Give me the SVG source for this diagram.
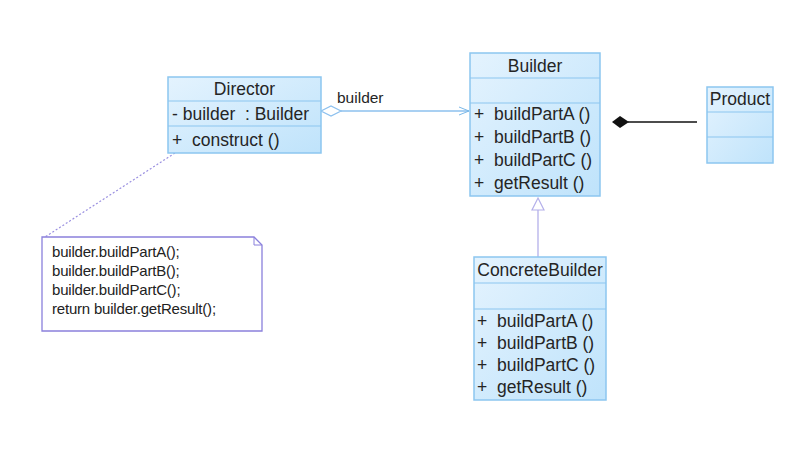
<svg xmlns="http://www.w3.org/2000/svg" width="803" height="462" viewBox="0 0 803 462">
<defs>
<linearGradient id="bg" x1="0" y1="0" x2="1" y2="1">
<stop offset="0" stop-color="#e4f3fe"/>
<stop offset="1" stop-color="#bfe3fb"/>
</linearGradient>
<marker id="open" markerWidth="12" markerHeight="10" refX="11" refY="5" orient="auto" markerUnits="userSpaceOnUse">
<path d="M1,1 L11,5 L1,9" fill="none" stroke="#7ab8e8" stroke-width="1"/>
</marker>
</defs>
<style>
.box{fill:url(#bg);stroke:#8cc6f0;stroke-width:1.5}
.sep{stroke:#8cc6f0;stroke-width:1.2}
.t{font-family:"Liberation Sans",Arial,sans-serif;font-size:17.5px;fill:#252525;white-space:pre}
.n{font-family:"Liberation Sans",Arial,sans-serif;font-size:15px;fill:#222;letter-spacing:-0.2px}
.c{stroke:#8cc0ee;stroke-width:1.3;fill:none}
</style>
<rect width="803" height="462" fill="#ffffff"/>

<g id="connectors">
<line class="c" x1="341" y1="111" x2="469" y2="111" marker-end="url(#open)"/>
<path d="M321,111 L331,106 L341,111 L331,116 Z" fill="#ffffff" stroke="#8cc0ee" stroke-width="1.2"/>
<text class="t" x="337" y="103" style="font-size:15.5px">builder</text>
<line x1="538" y1="210" x2="538" y2="257" stroke="#b4b0ea" stroke-width="1.3"/>
<path d="M538,198 L544,210 L532,210 Z" fill="#ffffff" stroke="#b4b0ea" stroke-width="1.2"/>
<line x1="628" y1="122" x2="697" y2="122" stroke="#111" stroke-width="1.5"/>
<path d="M612,122 L620,116 L629,122 L620,128 Z" fill="#111"/>
<line x1="175" y1="153" x2="45" y2="237" stroke="#9a90e0" stroke-width="1.2" stroke-dasharray="2,2"/>
</g>

<g id="director">
<rect class="box" x="168" y="77" width="153" height="76"/>
<line class="sep" x1="168" y1="101" x2="321" y2="101"/>
<line class="sep" x1="168" y1="126" x2="321" y2="126"/>
<text class="t" x="244.5" y="95" text-anchor="middle">Director</text>
<text class="t" x="172" y="120">- builder  : Builder</text>
<text class="t" x="172" y="146">+  construct ()</text>
</g>

<g id="builder">
<rect class="box" x="470" y="53" width="130" height="143"/>
<line class="sep" x1="470" y1="78" x2="600" y2="78"/>
<line class="sep" x1="470" y1="103" x2="600" y2="103"/>
<text class="t" x="535" y="72" text-anchor="middle">Builder</text>
<text class="t" x="474" y="120">+  buildPartA ()</text>
<text class="t" x="474" y="143">+  buildPartB ()</text>
<text class="t" x="474" y="166">+  buildPartC ()</text>
<text class="t" x="474" y="189">+  getResult ()</text>
</g>

<g id="product">
<rect class="box" x="707" y="87" width="66" height="76"/>
<line class="sep" x1="707" y1="112" x2="773" y2="112"/>
<line class="sep" x1="707" y1="137" x2="773" y2="137"/>
<text class="t" x="740" y="105" text-anchor="middle">Product</text>
</g>

<g id="concretebuilder">
<rect class="box" x="474" y="257" width="132" height="143"/>
<line class="sep" x1="474" y1="283" x2="606" y2="283"/>
<line class="sep" x1="474" y1="309" x2="606" y2="309"/>
<text class="t" x="540" y="276" text-anchor="middle">ConcreteBuilder</text>
<text class="t" x="477" y="327">+  buildPartA ()</text>
<text class="t" x="477" y="349">+  buildPartB ()</text>
<text class="t" x="477" y="371">+  buildPartC ()</text>
<text class="t" x="477" y="393">+  getResult ()</text>
</g>

<g id="note">
<path d="M42,237 L254,237 L262,245 L262,331 L42,331 Z" fill="#ffffff" stroke="#8a80dc" stroke-width="1.3"/>
<path d="M254,237 L254,245 L262,245" fill="none" stroke="#8a80dc" stroke-width="1"/>
<text class="n" x="52" y="257">builder.buildPartA();</text>
<text class="n" x="52" y="276">builder.buildPartB();</text>
<text class="n" x="52" y="295">builder.buildPartC();</text>
<text class="n" x="52" y="314">return builder.getResult();</text>
</g>
</svg>
